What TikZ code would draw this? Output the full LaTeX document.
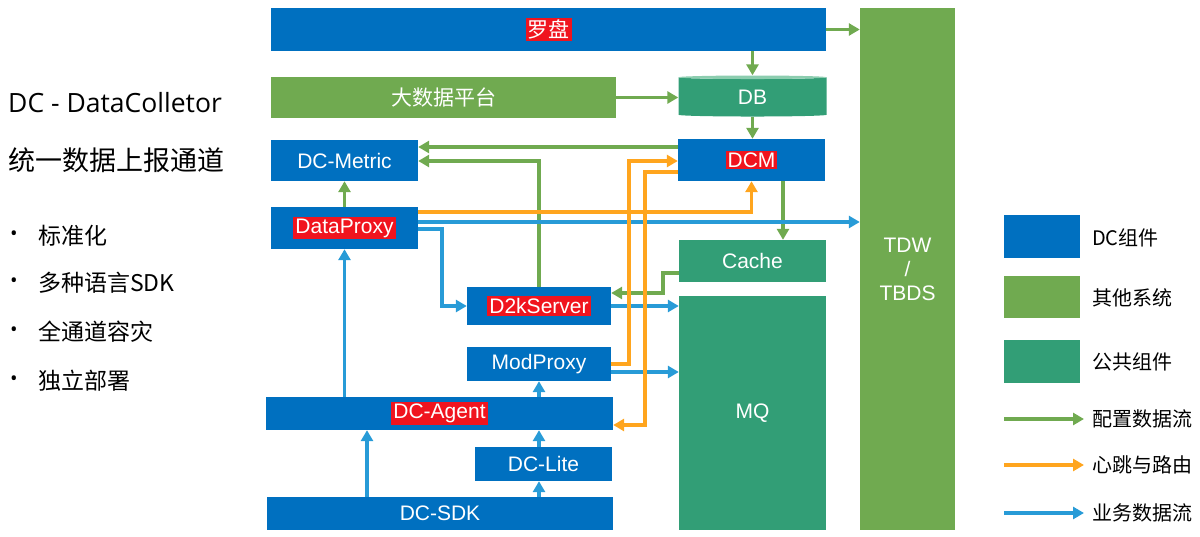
\documentclass[tikz,border=0pt]{standalone}
\usepackage{fontspec}
\setmainfont{Liberation Sans}
\newfontfamily\cjk{Noto Sans CJK SC}
\newfontfamily\slideFont{Open Sans}
\usetikzlibrary{arrows.meta}
\usetikzlibrary{shapes.geometric}
\definecolor{dcBlue}{RGB}{0,112,192}
\definecolor{sysGreen}{RGB}{112,170,80}
\definecolor{pubTeal}{RGB}{50,158,118}
\definecolor{dbTop}{RGB}{140,205,175}
\definecolor{hotRed}{RGB}{240,20,30}
\definecolor{bizBlue}{RGB}{40,155,215}
\definecolor{hbOrange}{RGB}{255,165,30}
\setlength{\fboxsep}{2pt}
\newcommand{\hot}[1]{\colorbox{hotRed}{#1}}

\begin{document}
\begin{tikzpicture}[x=1pt,y=-1pt]

  \tikzstyle{box} = [inner sep=0pt, text=white, font=\fontsize{21}{24}\selectfont];
  \tikzstyle{dcBox} = [box, fill=dcBlue];
  \tikzstyle{sysBox} = [box, fill=sysGreen];
  \tikzstyle{pubBox} = [box, fill=pubTeal];
  \tikzstyle{flow} = [line width=3.3pt, -{Triangle[length=11pt,width=12pt]}];
  \tikzstyle{cfgFlow} = [flow, sysGreen];
  \tikzstyle{hbFlow} = [flow, hbOrange];
  \tikzstyle{bizFlow} = [flow, bizBlue];
  \tikzstyle{legendText} = [anchor=west, inner sep=0pt, font=\cjk\fontsize{20}{24}\selectfont];
  \tikzstyle{slideText} = [anchor=west, inner sep=0pt, font=\slideFont\fontsize{20}{28}\selectfont];

  \useasboundingbox (0,0) rectangle (1200,537);

  % left column text
  \node[slideText, font=\slideFont\fontsize{26.5}{30}\selectfont] (title) at (8,103) {DC - DataColletor};
  \node[slideText, font=\cjk\fontsize{27}{32}\selectfont] (subtitle) at (8,160) {统一数据上报通道};
  \node[slideText] (b1) at (10,236) {•};
  \node[slideText, font=\cjk\fontsize{23}{28}\selectfont] (t1) at (38,236) {标准化};
  \node[slideText] (b2) at (10,283) {•};
  \node[slideText, font=\cjk\fontsize{23}{28}\selectfont] (t2) at (38,283) {多种语言SDK};
  \node[slideText] (b3) at (10,332) {•};
  \node[slideText, font=\cjk\fontsize{23}{28}\selectfont] (t3) at (38,332) {全通道容灾};
  \node[slideText] (b4) at (10,381) {•};
  \node[slideText, font=\cjk\fontsize{23}{28}\selectfont] (t4) at (38,381) {独立部署};

  % components
  \node[dcBox, minimum width=555pt, minimum height=43pt] (luopan) at (548.5,29.5) {\cjk\hot{罗盘}};
  \node[sysBox, minimum width=345pt, minimum height=41pt] (bigdata) at (443.5,97.5) {\cjk 大数据平台};
  \node[box, cylinder, shape border rotate=90, aspect=0.12, minimum width=148pt, minimum height=41pt,
        cylinder uses custom fill, cylinder body fill=pubTeal, cylinder end fill=dbTop] (db) at (752.5,97) {DB};
  \node[dcBox, minimum width=147pt, minimum height=41pt] (dmetric) at (344.5,160.5) {DC-Metric};
  \node[dcBox, minimum width=147pt, minimum height=42pt] (dcm) at (751.5,160) {\hot{DCM}};
  \node[dcBox, minimum width=147pt, minimum height=42pt] (dproxy) at (344.5,228) {\hot{DataProxy}};
  \node[pubBox, minimum width=147pt, minimum height=42pt] (cache) at (752.5,261) {Cache};
  \node[dcBox, minimum width=144pt, minimum height=38pt] (d2k) at (539,306) {\hot{D2kServer}};
  \node[pubBox, minimum width=147pt, minimum height=234pt] (mq) at (752.5,413) {MQ};
  \node[dcBox, minimum width=144pt, minimum height=34pt] (modproxy) at (539,364) {ModProxy};
  \node[dcBox, minimum width=347pt, minimum height=33pt] (agent) at (439.5,413.5) {\hot{DC-Agent}};
  \node[dcBox, minimum width=137pt, minimum height=34pt] (lite) at (543.5,464) {DC-Lite};
  \node[dcBox, minimum width=346pt, minimum height=33pt] (sdk) at (440,513.5) {DC-SDK};
  \node[sysBox, minimum width=95pt, minimum height=522pt, align=center] (tdw) at (907.5,269) {TDW\\/\\TBDS};

  % config flow
  \draw[cfgFlow] (luopan.east) -- (luopan.east -| tdw.west);
  \draw[cfgFlow] (db.north |- luopan.south) -- (db.north);
  \draw[cfgFlow] (bigdata.east) -- (bigdata.east -| db.west);
  \draw[cfgFlow] (db.south) -- (dcm.north -| db.south);
  \draw[cfgFlow] (dcm.west |- 0,147) -- (dmetric.east |- 0,147);
  \draw[cfgFlow] (d2k.north) -- (d2k.north |- 0,161) -- (dmetric.east |- 0,161);
  \draw[cfgFlow] (dproxy.north) -- (dmetric.south);
  \draw[cfgFlow] (dcm.south -| 783,0) -- (cache.north -| 783,0);
  \draw[cfgFlow] (cache.west |- 0,273) -- (663,273) -- (663,293) -- (d2k.east |- 0,293);

  % business flow
  \draw[bizFlow] (dproxy.east |- 0,222) -- (tdw.west |- 0,222);
  \draw[bizFlow] (dproxy.east |- 0,229) -- (442,229) |- (d2k.west);
  \draw[bizFlow] (d2k.east) -- (d2k.east -| mq.west);
  \draw[bizFlow] (modproxy.east |- 0,372) -- (mq.west |- 0,372);
  \draw[bizFlow] (dproxy.south |- agent.north) -- (dproxy.south);
  \draw[bizFlow] (sdk.north -| 367,0) -- (agent.south -| 367,0);
  \draw[bizFlow] (sdk.north -| 539,0) -- (lite.south -| 539,0);
  \draw[bizFlow] (lite.north -| 539,0) -- (agent.south -| 539,0);
  \draw[bizFlow] (modproxy.south |- agent.north) -- (modproxy.south);

  % heartbeat and routing
  \draw[hbFlow] (dproxy.east |- 0,212) -| (dcm.south);
  \draw[hbFlow] (modproxy.east |- 0,364) -- (629,364) |- (dcm.west |- 0,161);
  \draw[hbFlow] (dcm.west |- 0,172) -- (645,172) |- (agent.east |- 0,425);

  % legend
  \node[fill=dcBlue, minimum width=76pt, minimum height=43pt] (lgDc) at (1042,236.5) {};
  \node[legendText] (lgDcText) at (1092,238) {DC组件};
  \node[fill=sysGreen, minimum width=76pt, minimum height=42pt] (lgSys) at (1042,297) {};
  \node[legendText] (lgSysText) at (1092,298) {其他系统};
  \node[fill=pubTeal, minimum width=76pt, minimum height=43pt] (lgPub) at (1042,361.5) {};
  \node[legendText] (lgPubText) at (1092,362) {公共组件};
  \coordinate (lgCfg) at (1004,419);
  \node[legendText] (lgCfgText) at (1092,419) {配置数据流};
  \coordinate (lgHb) at (1004,465);
  \node[legendText] (lgHbText) at (1092,465) {心跳与路由};
  \coordinate (lgBiz) at (1004,513);
  \node[legendText] (lgBizText) at (1092,513) {业务数据流};
  \draw[cfgFlow] (lgCfg) -- ([xshift=-8pt]lgCfgText.west);
  \draw[hbFlow] (lgHb) -- ([xshift=-8pt]lgHbText.west);
  \draw[bizFlow] (lgBiz) -- ([xshift=-8pt]lgBizText.west);

\end{tikzpicture}
\end{document}
